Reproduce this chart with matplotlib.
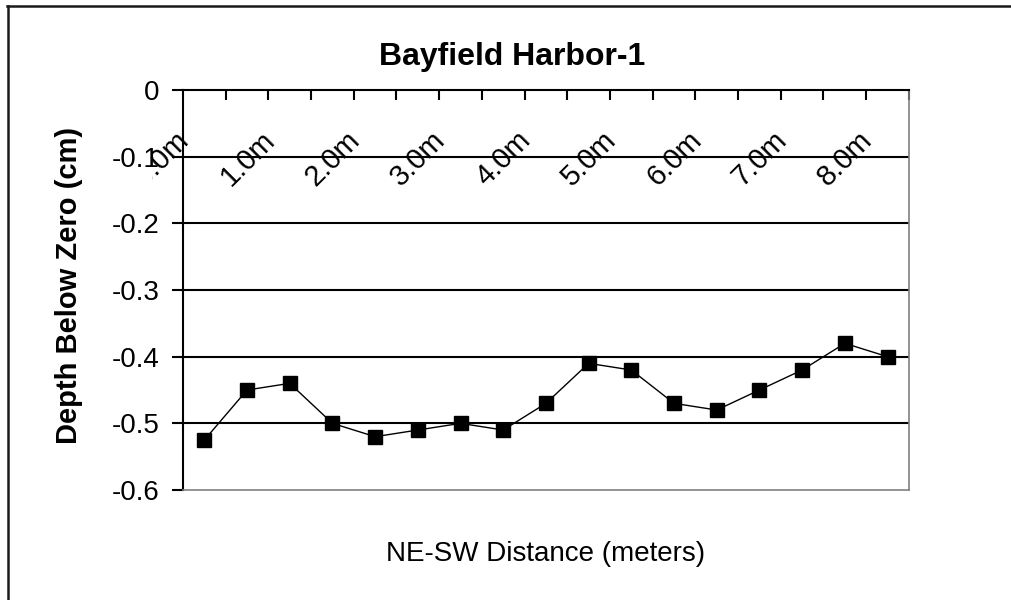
import numpy as np
import matplotlib.pyplot as plt
from matplotlib.lines import Line2D
from matplotlib.patches import Rectangle

# transect readings, one every half metre
distance_labels = ["0.0m", "0.5m", "1.0m", "1.5m", "2.0m", "2.5m", "3.0m", "3.5m", "4.0m",
                   "4.5m", "5.0m", "5.5m", "6.0m", "6.5m", "7.0m", "7.5m", "8.0m"]
depth_cm = [-0.525, -0.45, -0.44, -0.50, -0.52, -0.51, -0.50, -0.51, -0.47,
            -0.41, -0.42, -0.47, -0.48, -0.45, -0.42, -0.38, -0.40]
y_ticks = [0, -0.1, -0.2, -0.3, -0.4, -0.5, -0.6]
y_tick_labels = ["0", "-0.1", "-0.2", "-0.3", "-0.4", "-0.5", "-0.6"]

FONT = ["Liberation Sans", "DejaVu Sans"]
plt.rcParams["font.family"] = FONT

fig = plt.figure(figsize=(10.11, 6.0), dpi=100)
ax = fig.add_axes([0.181, 0.1833, 0.718, 0.6667])

x = np.arange(len(depth_cm))
ax.plot(x, depth_cm, color="black", lw=1.0, marker="s", markersize=10,
        markerfacecolor="black", markeredgecolor="black", zorder=4)

ax.set_xlim(-0.5, len(depth_cm) - 0.5)
ax.set_ylim(-0.6, 0)

# horizontal gridlines
for yv in y_ticks[1:-1]:
    ax.axhline(yv, color="black", lw=1.5, zorder=1)

# y axis
ax.set_yticks(y_ticks)
ax.set_yticklabels(y_tick_labels, fontsize=20)
ax.tick_params(axis="y", direction="out", length=8, width=1.5, pad=9)

# category axis sits at the top (y = 0), ticks point down between categories
ax.set_xticks(np.arange(0.5, len(depth_cm), 1.0))
ax.set_xticklabels([])
ax.tick_params(axis="x", top=True, bottom=False, labeltop=False, labelbottom=False,
               direction="in", length=7, width=1.5)

# slanted labels are cut off left of the value labels
label_clip = Rectangle((0.15, 0.0), 0.85, 1.0, transform=fig.transFigure,
                       visible=False)
fig.add_artist(label_clip)

# every second category gets a slanted label under the axis line
for i in range(0, len(distance_labels), 2):
    t = ax.annotate(distance_labels[i], xy=(i, 0), xycoords="data",
                    xytext=(-14, -33), textcoords="offset points",
                    rotation=45, rotation_mode="anchor", ha="right", va="center",
                    fontsize=21, zorder=6, annotation_clip=False)
    t.set_clip_path(label_clip)

ax.spines["left"].set_color("black")
ax.spines["left"].set_linewidth(1.5)
ax.spines["top"].set_color("black")
ax.spines["top"].set_linewidth(1.5)
ax.spines["right"].set_color("#808080")
ax.spines["right"].set_linewidth(1.2)
ax.spines["bottom"].set_color("#808080")
ax.spines["bottom"].set_linewidth(1.2)

fig.text(0.507, 0.905, "Bayfield Harbor-1", ha="center", va="center",
         fontsize=23, fontweight="bold")
fig.text(0.068, 0.525, "Depth Below Zero (cm)", ha="center", va="center",
         rotation=90, fontsize=21, fontweight="bold")
fig.text(0.54, 0.076, "NE-SW Distance (meters)", ha="center", va="center",
         fontsize=20)

# chart frame (left and top edges)
fig.add_artist(Line2D([0.008, 0.008], [0, 0.99], transform=fig.transFigure,
                      color="#1a1a1a", lw=1.8))
fig.add_artist(Line2D([0.007, 1.0], [0.99, 0.99], transform=fig.transFigure,
                      color="#1a1a1a", lw=1.8))

fig.savefig("out.png", dpi=100)
